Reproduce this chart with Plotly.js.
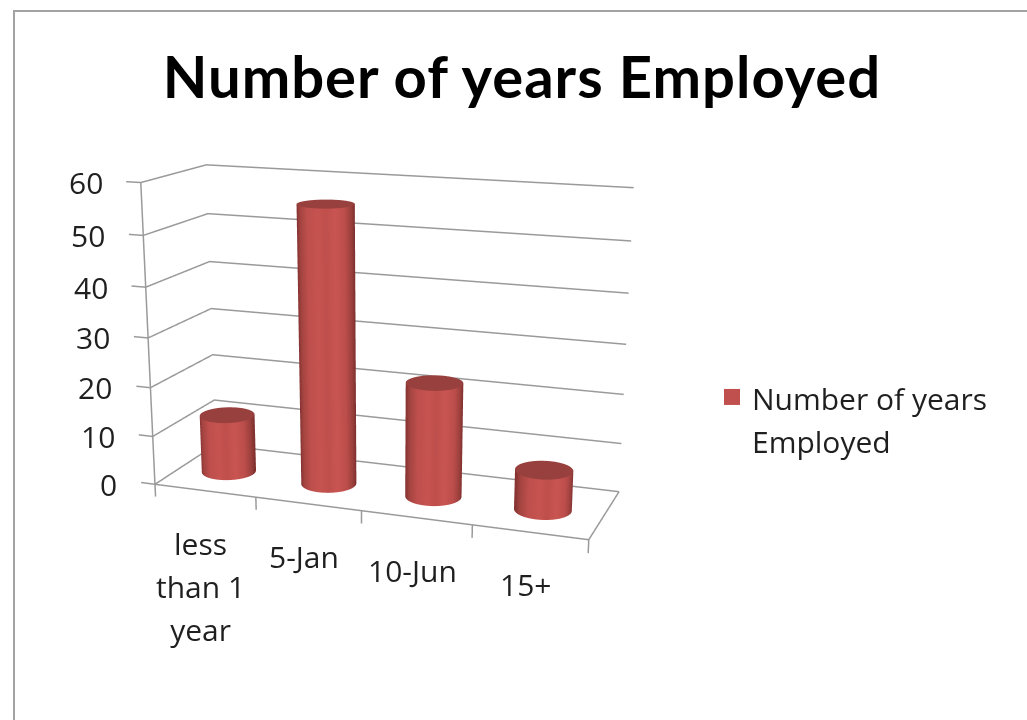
<!DOCTYPE html>
<html>
<head>
<meta charset="utf-8">
<script src="https://cdn.plot.ly/plotly-3.0.1.min.js"></script>
<style>
html,body{margin:0;padding:0;width:1027px;height:720px;overflow:hidden;background:#fff}
#chart{position:absolute;left:0;top:-206px;width:1027px;height:1242px}
.gtitle{letter-spacing:1px}
</style>
</head>
<body>
<div id="chart"></div>
<script>
// Chart content
var chartTitle = 'Number of years Employed';
var seriesLines = ['Number of years', 'Employed'];
var categories = [['less', 'than 1', 'year'], ['5-Jan'], ['10-Jun'], ['15+']];
var values = [12, 56, 23, 8];
var valueTicks = [0, 10, 20, 30, 40, 50, 60];
var categoryEdges = [0, 1, 2, 3, 4];

// Page geometry: the figure is taller than the window so the 45 degree
// field of view of the 3D scene gives a long, gentle perspective.
var FIG_W = 1027, FIG_H = 1242, FIG_TOP = -206;
function px(x){ return x / FIG_W; }
function py(y){ return 1 - (y - FIG_TOP) / FIG_H; }

var BAR = '#C0504D', TEXT = '#1f1f1f', LINE = '#9a9a9a';
var FONT = '"Open Sans", Lato, sans-serif';
var TEXT_SIZE = 30, LINE_BOX = 33;      // line pitch follows the outer font size
function sized(lines){
  return lines.map(function (l) {
    return '<span style="font-size:' + TEXT_SIZE + 'px">' + l + '</span>';
  }).join('<br>');
}

// The plotted box, and the slightly larger scene range that leaves room
// for tick marks outside it.
var box = {x: [0, 4], y: [0, 1], z: [0, 60]};
var sceneRange = {x: [-0.2, 4.02], y: [-0.02, 1.02], z: [-3, 61]};
var boxAspect = {x: 1.005, y: 0.311, z: 0.685};
var boxEye = {x: 1.0944, y: -3.00865, z: 0.8024};
var boxLook = {x: 0.0785, y: -0.03005, z: -0.153};

var aspect = {}, eye = {}, lookAt = {};
['x', 'y', 'z'].forEach(function (k) {
  var bs = box[k][1] - box[k][0], ss = sceneRange[k][1] - sceneRange[k][0];
  var off = ((sceneRange[k][0] + sceneRange[k][1]) - (box[k][0] + box[k][1])) / 2 / bs * boxAspect[k];
  aspect[k] = boxAspect[k] * ss / bs;
  eye[k] = boxEye[k] - off;
  lookAt[k] = boxLook[k] - off;
});

var radiusX = 0.25;                                  // in category units
var radiusY = radiusX * boxAspect.x / 4 / boxAspect.y;   // round in scene space
var faceAngle = Math.atan2(boxEye.y, boxEye.x);

var shade = [
  [0.00, '#843230'], [0.07, '#a34441'], [0.20, '#be4f4c'], [0.38, '#c65350'],
  [0.52, '#bf4f4c'], [0.68, '#c95552'], [0.84, '#bb4d4a'], [0.94, '#9b403d'], [1.00, '#7f302e']
];
var capShade = [[0, '#97403d'], [1, '#97403d']];

var traces = [];

// Gridlines and frame edges
function lineTrace(xs, ys, zs){
  return {
    type: 'scatter3d', mode: 'lines', showlegend: false, hoverinfo: 'skip',
    x: xs, y: ys, z: zs, line: {color: LINE, width: 3}
  };
}
valueTicks.forEach(function (t) {
  traces.push(lineTrace([0, 0, 4], [0, 1, 1], [t, t, t]));
  traces.push(lineTrace([0, -0.14], [0, 0], [t, t]));
});
traces.push(lineTrace([0, 0], [0, 0], [0, 60]));
traces.push(lineTrace([0, 4, 4], [0, 0, 1], [0, 0, 0]));
categoryEdges.forEach(function (e) {
  traces.push(lineTrace([e, e], [0, 0], [0, -2.6]));
});

var steps = [];
for (var a = 0; a <= 72; a++) steps.push(a / 72 * 2 * Math.PI);

values.forEach(function (v, i) {
  var cx = i + 0.47, cy = 0.45;
  var rimX = steps.map(function (t) { return cx + radiusX * Math.cos(t); });
  var rimY = steps.map(function (t) { return cy + radiusY * Math.sin(t); });
  var across = steps.map(function (t) { return Math.sin(t - faceAngle); });
  var flat = {ambient: 1, diffuse: 0, specular: 0, roughness: 1, fresnel: 0};
  traces.push({
    type: 'surface', showscale: false, hoverinfo: 'skip', lighting: flat,
    x: [rimX, rimX], y: [rimY, rimY],
    z: [steps.map(function () { return 0; }), steps.map(function () { return v; })],
    surfacecolor: [across, across], cmin: -1, cmax: 1, colorscale: shade
  });
  traces.push({
    type: 'surface', showscale: false, hoverinfo: 'skip', lighting: flat,
    x: [steps.map(function () { return cx; }), rimX],
    y: [steps.map(function () { return cy; }), rimY],
    z: [steps.map(function () { return v; }), steps.map(function () { return v; })],
    surfacecolor: [steps.map(function () { return 0; }), steps.map(function () { return 0; })],
    cmin: 0, cmax: 1, colorscale: capShade
  });
});

// Empty trace that carries the legend entry
traces.push({
  type: 'scatter3d', mode: 'markers', name: sized(seriesLines), showlegend: true,
  x: [null], y: [null], z: [null],
  marker: {symbol: 'square', size: 18, color: BAR}
});

var labelFont = {family: FONT, size: LINE_BOX, color: TEXT};
var sceneNotes = [];
categories.forEach(function (c, i) {
  sceneNotes.push({
    x: i + 0.5, y: 0, z: 0, text: sized(c), showarrow: false, font: labelFont,
    xanchor: 'center', yanchor: 'top', yshift: -30, xshift: -4, align: 'center'
  });
});
valueTicks.forEach(function (t) {
  sceneNotes.push({
    x: 0, y: 0, z: t, text: sized([String(t)]), showarrow: false, font: labelFont,
    xanchor: 'right', yanchor: 'middle', xshift: -36
  });
});

function hiddenAxis(range){
  return {
    range: range, showticklabels: false, showgrid: false, zeroline: false,
    showline: false, ticks: '', showbackground: false, showspikes: false, title: {text: ''}
  };
}

var layout = {
  width: FIG_W, height: FIG_H, showlegend: true,
  paper_bgcolor: '#fff',
  margin: {l: 0, r: 0, t: 0, b: 0},
  title: {
    text: '<b>' + chartTitle + '</b>', xref: 'paper', yref: 'paper',
    x: px(522), xanchor: 'center', y: py(78), yanchor: 'middle',
    font: {family: 'Lato, sans-serif', size: 58, color: '#000'}
  },
  legend: {
    x: px(712), y: py(369), xanchor: 'left', yanchor: 'top', valign: 'top',
    font: labelFont, bgcolor: 'rgba(0,0,0,0)'
  },
  shapes: [{
    type: 'rect', xref: 'paper', yref: 'paper',
    x0: px(14), x1: 1.1, y0: 0, y1: py(11),
    line: {color: '#a3a3a3', width: 2}, fillcolor: 'rgba(0,0,0,0)'
  }],
  scene: {
    domain: {x: [2 / FIG_W, 828 / FIG_W], y: [0, 1]},
    dragmode: 'orbit',
    aspectmode: 'manual', aspectratio: aspect,
    camera: {
      eye: eye, center: lookAt, up: {x: -0.0057, y: -0.002, z: 1},
      projection: {type: 'perspective'}
    },
    xaxis: hiddenAxis(sceneRange.x),
    yaxis: hiddenAxis(sceneRange.y),
    zaxis: hiddenAxis(sceneRange.z),
    annotations: sceneNotes
  }
};

Plotly.newPlot('chart', traces, layout, {displayModeBar: false, responsive: false});
</script>
</body>
</html>
